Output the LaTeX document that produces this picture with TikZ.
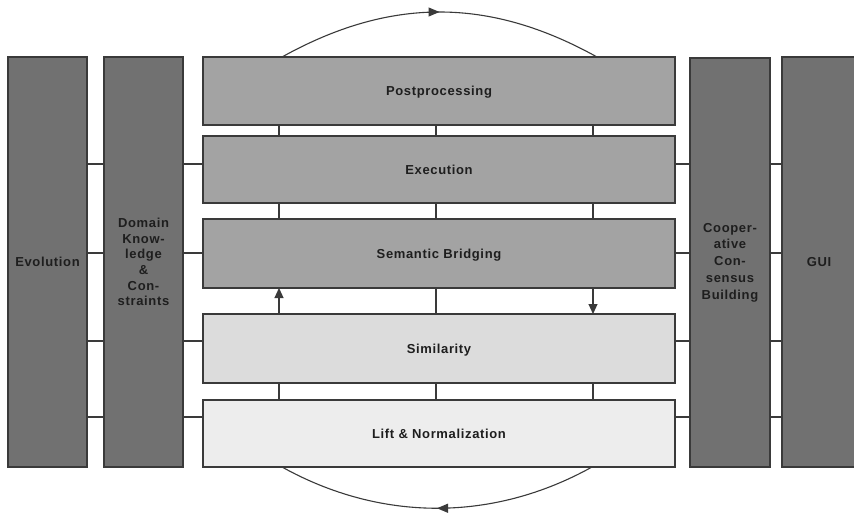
\documentclass[tikz,border=0pt]{standalone}
\usepackage{fontspec}
\setmainfont{Liberation Sans}[LetterSpace=5]
\usetikzlibrary{arrows.meta,decorations.markings}
\definecolor{sidecol}{HTML}{717171}
\definecolor{midcol}{HTML}{A3A3A3}
\definecolor{simcol}{HTML}{DCDCDC}
\definecolor{liftcol}{HTML}{EDEDED}
\definecolor{linecol}{HTML}{3A3A3A}
\definecolor{textcol}{HTML}{1E1E1E}
\begin{document}
\begin{tikzpicture}[x=1pt,y=-1pt,
  box/.style={draw=linecol, line width=1.1pt, inner sep=0pt, outer sep=0pt,
    anchor=north west, align=center, text=textcol,
    font=\fontsize{13}{16}\selectfont\bfseries},
  sidebox/.style={box, fill=sidecol},
  layer/.style={box, text depth=0pt, minimum width=472pt},
  conn/.style={draw=linecol, line width=1.1pt},
  tip/.style={-{Triangle[length=10pt,width=9pt]}},
  midtip/.style={decoration={markings, mark=at position 0.5 with {\arrow{Triangle[length=11pt,width=9pt]}}}, postaction={decorate}}]
\clip (0,0) rectangle (854,513);
\fill[white] (0,0) rectangle (854,513);
% side columns
\node[sidebox, minimum width=79pt, minimum height=410pt] (evo) at (8,57) {Evolution};
\node[sidebox, minimum width=79pt, minimum height=410pt, font=\fontsize{13}{15.6}\selectfont\bfseries] (dom) at (104,57) {Domain\\Know-\\ledge\\\&\\Con-\\straints};
\node[sidebox, minimum width=80pt, minimum height=409pt, font=\fontsize{13}{16.7}\selectfont\bfseries] (coop) at (690,58) {Cooper-\\ative\\Con-\\sensus\\Building};
\node[sidebox, minimum width=74pt, minimum height=410pt] (gui) at (782,57) {GUI};
% central layers
\node[layer, fill=midcol, minimum height=68pt] (post) at (203,57) {Postprocessing};
\node[layer, fill=midcol, minimum height=67pt] (exec) at (203,136) {Execution};
\node[layer, fill=midcol, minimum height=69pt] (sem) at (203,219) {Semantic Bridging};
\node[layer, fill=simcol, minimum height=69pt] (sim) at (203,314) {Similarity};
\node[layer, fill=liftcol, minimum height=67pt] (lift) at (203,400) {Lift \& Normalization};
% reference coordinates
\coordinate (r1) at (0,164);
\coordinate (r2) at (0,253);
\coordinate (r3) at (0,341);
\coordinate (r4) at (0,417);
\coordinate (c1) at (279,0);
\coordinate (c2) at (436,0);
\coordinate (c3) at (593,0);
\coordinate (t1) at (282,0);
\coordinate (t2) at (597,0);
\coordinate (b1) at (282,0);
\coordinate (b2) at (592,0);
% horizontal connectors
\foreach \r in {r1,r2,r3,r4}{
  \draw[conn] (evo.east |- \r) -- (dom.west |- \r);
  \draw[conn] (dom.east |- \r) -- (post.west |- \r);
  \draw[conn] (post.east |- \r) -- (coop.west |- \r);
  \draw[conn] (coop.east |- \r) -- (gui.west |- \r);
}
% vertical connectors
\foreach \c in {c1,c2,c3}{
  \draw[conn] (post.south -| \c) -- (exec.north -| \c);
  \draw[conn] (exec.south -| \c) -- (sem.north -| \c);
  \draw[conn] (sim.south -| \c) -- (lift.north -| \c);
}
\draw[conn, tip] (sim.north -| c1) -- (sem.south -| c1);
\draw[conn] (sem.south -| c2) -- (sim.north -| c2);
\draw[conn, tip] (sem.south -| c3) -- (sim.north -| c3);
% loop curves
\draw[conn, midtip] (post.north -| t1) .. controls (390,-3) and (489,-3) .. (post.north -| t2);
\draw[conn, midtip] (lift.south -| b2) .. controls (493,522) and (381,522) .. (lift.south -| b1);
\end{tikzpicture}
\end{document}
